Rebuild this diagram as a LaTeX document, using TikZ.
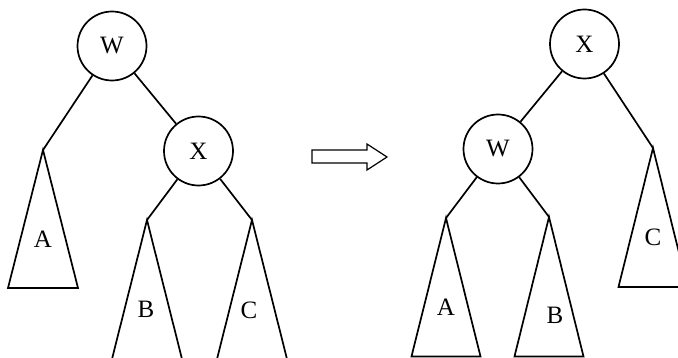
\documentclass[tikz,border=0pt]{standalone}
\usepackage{fontspec}
\setmainfont{Liberation Serif}
\begin{document}
\begin{tikzpicture}[x=1pt,y=-1pt,
  treenode/.style={circle,draw,line width=1.7pt,minimum size=69pt,inner sep=0pt,font=\fontsize{25}{25}\selectfont},
  edge/.style={line width=1.7pt},
  subtree/.style={line width=1.7pt,line join=miter},
  lbl/.style={font=\fontsize{25}{25}\selectfont,inner sep=0pt}]
\useasboundingbox (0,0) rectangle (678,358);
\clip (0,0) rectangle (678,358);
% left tree
\node[treenode] (W1) at (112,46) {W};
\node[treenode] (X1) at (198.5,151) {X};
\coordinate (A1) at (43,150);
\coordinate (B1) at (147,220);
\coordinate (C1) at (252,220);
\draw[edge] (W1) -- (A1);
\draw[edge] (W1) -- (X1);
\draw[edge] (X1) -- (B1);
\draw[edge] (X1) -- (C1);
\draw[subtree] (A1) -- ++(-35,138) -- ++(70,0) -- cycle;
\draw[subtree] (B1) -- ++(-35.5,141) -- ++(71,0) -- cycle;
\draw[subtree] (C1) -- ++(-35.5,141) -- ++(71,0) -- cycle;
\node[lbl] (la1) at (43,239) {A};
\node[lbl] (lb1) at (146,309) {B};
\node[lbl] (lc1) at (249,310) {C};
% arrow
\draw[line width=1.2pt,line join=miter]
  (312,150) -- (367,150) -- (367,144) -- (387,157) -- (367,170) -- (367,163) -- (312,163) -- cycle;
% right tree
\node[treenode] (X2) at (584.5,44) {X};
\node[treenode] (W2) at (498,149) {W};
\coordinate (A2) at (446,218);
\coordinate (B2) at (549,217);
\coordinate (C2) at (653,148);
\draw[edge] (X2) -- (W2);
\draw[edge] (X2) -- (C2);
\draw[edge] (W2) -- (A2);
\draw[edge] (W2) -- (B2);
\draw[subtree] (A2) -- ++(-34.5,138.5) -- ++(69,0) -- cycle;
\draw[subtree] (B2) -- ++(-34.5,139.5) -- ++(69,0) -- cycle;
\draw[subtree] (C2) -- ++(-34.5,139) -- ++(69,0) -- cycle;
\node[lbl] (la2) at (446,307) {A};
\node[lbl] (lb2) at (555,315) {B};
\node[lbl] (lc2) at (653,237) {C};
\end{tikzpicture}
\end{document}
